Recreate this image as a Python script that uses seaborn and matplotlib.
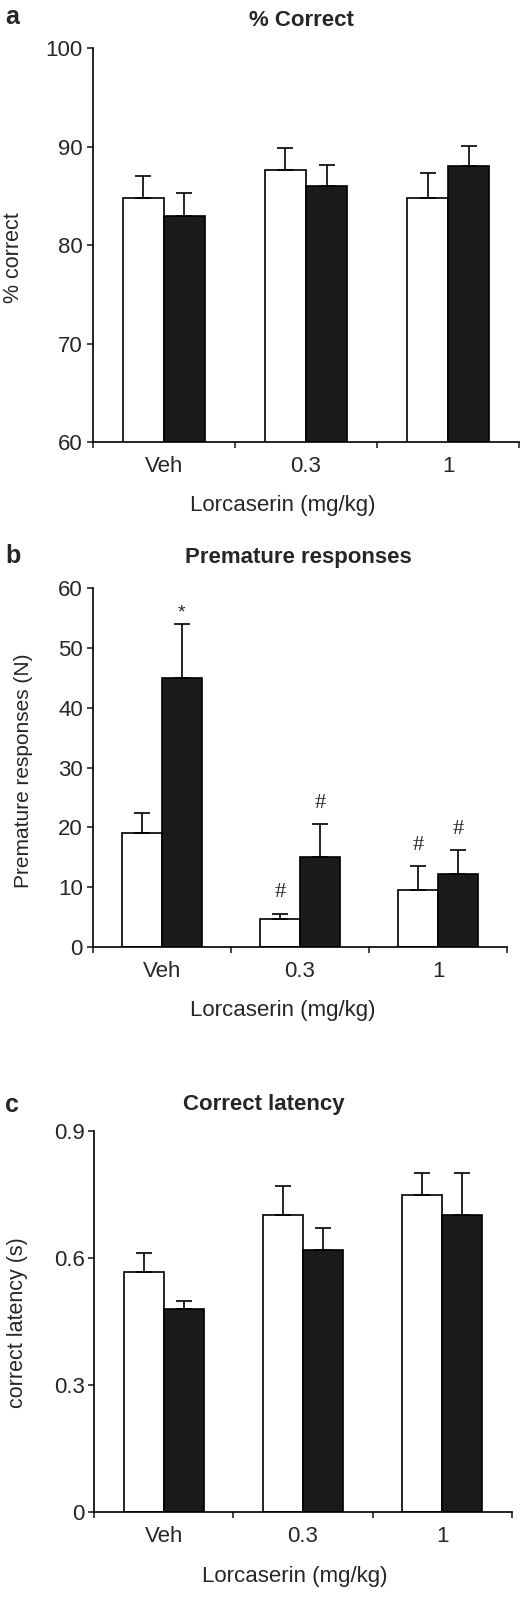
import numpy as np
import pandas as pd
import seaborn as sns
import matplotlib.pyplot as plt
from matplotlib.container import BarContainer

# Dose groups on the x axis
doses = ['Veh', '0.3', '1']
conditions = ['Condition A', 'Condition B']   # open bars / filled bars

# Panel a: % correct (mean, SEM)
correct_open = [84.8, 87.6, 84.8]
correct_open_err = [2.2, 2.3, 2.5]
correct_filled = [83.0, 86.0, 88.0]
correct_filled_err = [2.3, 2.1, 2.1]

# Panel b: premature responses (N)
premature_open = [19.0, 4.7, 9.5]
premature_open_err = [3.5, 0.9, 4.0]
premature_filled = [45.0, 15.1, 12.2]
premature_filled_err = [9.1, 5.4, 4.0]
premature_open_marks = ['', '#', '#']
premature_filled_marks = ['*', '#', '#']

# Panel c: correct latency (s)
latency_open = [0.568, 0.702, 0.749]
latency_open_err = [0.043, 0.068, 0.051]
latency_filled = [0.479, 0.619, 0.702]
latency_filled_err = [0.020, 0.051, 0.098]

sns.set_style('ticks')
plt.rcParams['font.family'] = ['Liberation Sans', 'DejaVu Sans']
plt.rcParams['axes.linewidth'] = 1.2


def make_df(open_vals, filled_vals):
    return pd.DataFrame({
        'dose': doses * 2,
        'condition': [conditions[0]] * 3 + [conditions[1]] * 3,
        'value': list(open_vals) + list(filled_vals),
    })


def draw_panel(ax, df, errs, marks=None):
    sns.barplot(data=df, x='dose', y='value', hue='condition', order=doses,
                hue_order=conditions, palette=['white', '#1a1a1a'],
                saturation=1, width=0.58, edgecolor='black', linewidth=1.2,
                errorbar=None, legend=False, ax=ax)
    bar_sets = [c for c in ax.containers if isinstance(c, BarContainer)]
    for i, cont in enumerate(bar_sets):
        xs = [b.get_x() + b.get_width() / 2 for b in cont]
        ys = [b.get_height() for b in cont]
        ax.errorbar(xs, ys, yerr=[np.zeros(len(ys)), errs[i]], fmt='none',
                    ecolor='black', elinewidth=1.2, capsize=5.5, capthick=1.2,
                    zorder=1)
        if marks is not None:
            for x, y, e, m in zip(xs, ys, errs[i], marks[i]):
                if m == '*':
                    ax.annotate(m, (x, y + e), xytext=(0, 8), textcoords='offset points',
                                ha='center', va='center', fontsize=14)
                elif m:
                    ax.annotate(m, (x, y + e), xytext=(0, 15), textcoords='offset points',
                                ha='center', va='center', fontsize=16,
                                family=['Liberation Serif', 'DejaVu Serif'])
    ax.set_xlim(-0.5, 2.5)
    ax.set_xticks([-0.5, 0.5, 1.5, 2.5])
    ax.set_xticklabels([])
    ax.set_xticks([0, 1, 2], minor=True)
    ax.set_xticklabels(doses, minor=True)
    ax.tick_params(axis='x', which='major', direction='out', length=4.5, width=1.2)
    ax.tick_params(axis='x', which='minor', length=0, pad=10, labelsize=16)
    ax.tick_params(axis='y', direction='out', length=4, width=1.2, pad=3, labelsize=16)
    sns.despine(ax=ax)
    for s in ['left', 'bottom']:
        ax.spines[s].set_color('black')
    ax.set_xlabel('Lorcaserin (mg/kg)', fontsize=16)


fig = plt.figure(figsize=(5.23, 16.04), dpi=100)
ax_a = fig.add_axes([0.1772, 0.7243, 0.8157, 0.2456])
ax_b = fig.add_axes([0.1772, 0.4096, 0.7927, 0.2236])
ax_c = fig.add_axes([0.1803, 0.0572, 0.7980, 0.2377])

# a
draw_panel(ax_a, make_df(correct_open, correct_filled),
           [correct_open_err, correct_filled_err])
ax_a.set_ylim(60, 100)
ax_a.set_yticks([60, 70, 80, 90, 100])
ax_a.set_ylabel('% correct', fontsize=15.5)
ax_a.yaxis.set_label_coords(-0.160, 0.468)
ax_a.xaxis.set_label_coords(0.446, -0.135)
ax_a.set_title('% Correct', fontsize=16, fontweight='bold', pad=16, x=0.49)

# b
draw_panel(ax_b, make_df(premature_open, premature_filled),
           [premature_open_err, premature_filled_err],
           [premature_open_marks, premature_filled_marks])
ax_b.set_ylim(0, 60)
ax_b.set_yticks([0, 10, 20, 30, 40, 50, 60])
ax_b.set_ylabel('Premature responses (N)', fontsize=15)
ax_b.yaxis.set_label_coords(-0.145, 0.491)
ax_b.xaxis.set_label_coords(0.459, -0.148)
ax_b.set_title('Premature responses', fontsize=16, fontweight='bold', pad=18, x=0.495)

# c
draw_panel(ax_c, make_df(latency_open, latency_filled),
           [latency_open_err, latency_filled_err])
ax_c.set_ylim(0, 0.9)
ax_c.set_yticks([0, 0.3, 0.6, 0.9])
ax_c.set_yticklabels(['0', '0.3', '0.6', '0.9'])
ax_c.set_ylabel('correct latency (s)', fontsize=15.5)
ax_c.yaxis.set_label_coords(-0.160, 0.498)
ax_c.xaxis.set_label_coords(0.481, -0.14)
ax_c.set_title('Correct latency', fontsize=16, fontweight='bold', pad=15, x=0.4066)

# panel letters
for letter, y in [('a', 0.985), ('b', 0.6488), ('c', 0.3067)]:
    fig.text(0.01, y, letter, fontsize=18, fontweight='bold', va='baseline')

fig.savefig('out.png', dpi=100)
